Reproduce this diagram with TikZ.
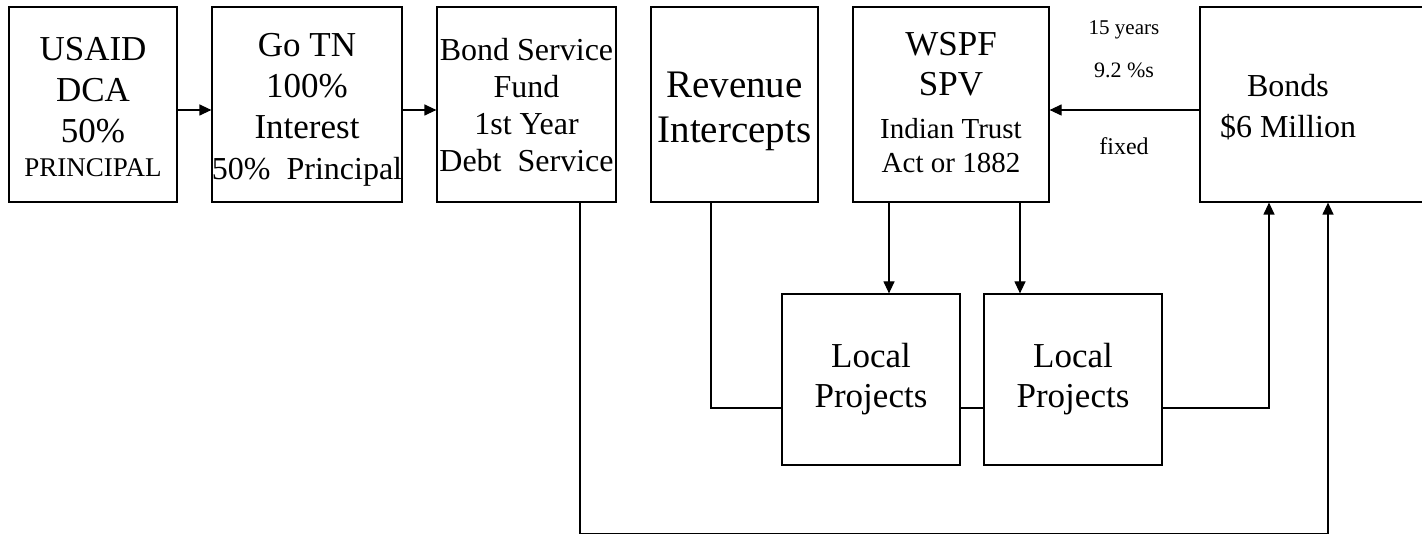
\documentclass[tikz,border=0pt]{standalone}
\usepackage{fontspec}
\setmainfont{Liberation Serif}
\usetikzlibrary{arrows.meta}
\begin{document}
\begin{tikzpicture}[x=1pt,y=-1pt,
 box/.style={draw, line width=1.2pt, rectangle, inner sep=0pt},
 txt/.style={inner sep=0pt, align=center},
 arr/.style={line width=1.2pt, -{Triangle[length=12pt,width=11pt]}},
 ln/.style={line width=1.2pt},
 lab/.style={inner sep=0pt, anchor=base}]
\useasboundingbox (0,0) rectangle (1422,534);
% boxes
\node[box, minimum width=168, minimum height=195] (usaid) at (93,104.5) {};
\node[box, minimum width=190, minimum height=195] (gotn) at (307,104.5) {};
\node[box, minimum width=179, minimum height=195] (bsf) at (526.5,104.5) {};
\node[box, minimum width=167, minimum height=195] (rev) at (734.5,104.5) {};
\node[box, minimum width=196, minimum height=195] (wspf) at (951,104.5) {};
\node[box, minimum width=224, minimum height=195] (bonds) at (1312,104.5) {};
\node[box, minimum width=178, minimum height=171] (lp1) at (871,379.5) {};
\node[box, minimum width=178, minimum height=171] (lp2) at (1073,379.5) {};
% box texts
\node[txt, font=\fontsize{35}{41}\selectfont] (usaidtxt) at ([yshift=-2.5pt]usaid.center)
 {USAID\\DCA\\50\%\\[-7pt]{\fontsize{27}{27}\selectfont PRINCIPAL}};
\node[txt, font=\fontsize{35}{41}\selectfont] (gotntxt) at ([yshift=-5pt]gotn.center)
 {Go TN\\100\%\\Interest\\{\fontsize{32}{32}\selectfont 50\%\ \ Principal}};
\node[txt, font=\fontsize{32}{37}\selectfont] (bsftxt) at ([yshift=-1pt]bsf.center)
 {Bond Service\\Fund\\1st Year\\Debt\ \ Service};
\node[txt, font=\fontsize{39}{45}\selectfont] (revtxt) at ([yshift=-7pt]rev.center)
 {Revenue\\Intercepts};
\node[txt, font=\fontsize{35}{40}\selectfont] (wspftxt) at ([yshift=2pt]wspf.center)
 {WSPF\\SPV\\[3pt]{\fontsize{29}{29}\selectfont Indian Trust}\\[-6pt]{\fontsize{29}{29}\selectfont Act or 1882}};
\node[txt, font=\fontsize{32}{41}\selectfont] (bondstxt) at (1288,107) {Bonds\\\$6 Million};
\node[txt, font=\fontsize{35}{40}\selectfont] (lp1txt) at (lp1.center) {Local\\Projects};
\node[txt, font=\fontsize{35}{40}\selectfont] (lp2txt) at (lp2.center) {Local\\Projects};
% labels
\node[lab, font=\fontsize{21}{21}\selectfont] (l1) at (1124,35) {15 years};
\node[lab, font=\fontsize{22}{22}\selectfont] (l2) at (1124,78) {9.2 \%s};
\node[lab, font=\fontsize{24}{24}\selectfont] (l3) at (1124,155) {fixed};
% helper coordinates
\coordinate (ya) at (0,110);
\coordinate (yl) at (0,408);
\coordinate (yb) at (0,533.9);
\coordinate (xr) at (711,0);
\coordinate (xw1) at (889,0);
\coordinate (xw2) at (1020,0);
\coordinate (xb1) at (1269,0);
\coordinate (xb2) at (1328,0);
\coordinate (xs) at (580,0);
% connectors
\draw[arr] (usaid.east |- ya) -- (gotn.west |- ya);
\draw[arr] (gotn.east |- ya) -- (bsf.west |- ya);
\draw[arr] (bonds.west |- ya) -- (wspf.east |- ya);
\draw[arr] (wspf.south -| xw1) -- (lp1.north -| xw1);
\draw[arr] (wspf.south -| xw2) -- (lp2.north -| xw2);
\draw[ln] (rev.south -| xr) |- (lp1.west |- yl);
\draw[ln] (lp1.east |- yl) -- (lp2.west |- yl);
\draw[arr] (lp2.east |- yl) -| (bonds.south -| xb1);
\draw[arr] (bsf.south -| xs) |- (yb -| xb2) -- (bonds.south -| xb2);
\end{tikzpicture}
\end{document}
